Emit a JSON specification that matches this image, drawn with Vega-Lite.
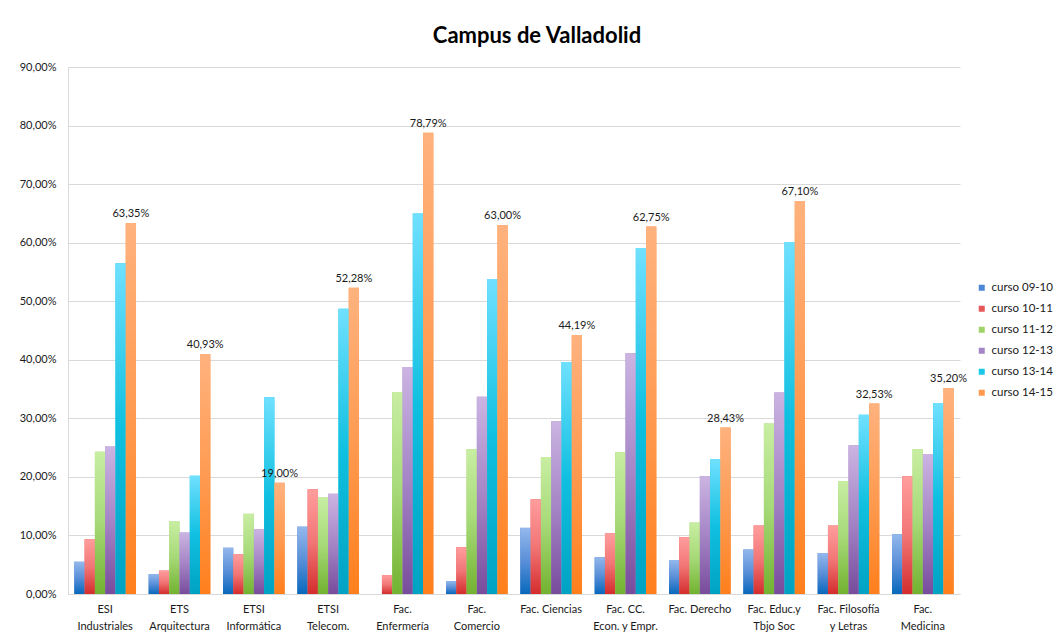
{
  "$schema": "https://vega.github.io/schema/vega-lite/v6.json",
  "autosize": {"type": "none"},
  "width": 892,
  "height": 527,
  "padding": {"left": 68, "top": 67, "right": 94, "bottom": 43},
  "background": "white",
  "config": {
    "view": {"stroke": null},
    "font": "Lato",
    "locale": {"number": {"decimal": ",", "thousands": ".", "grouping": [3], "currency": ["", " €"]}}
  },
  "title": {
    "text": "Campus de Valladolid",
    "fontSize": 22,
    "fontWeight": "bold",
    "font": "Lato",
    "color": "#000000",
    "anchor": "middle",
    "dx": 23,
    "offset": 13
  },
  "data": {
    "values": [
      {"centro": "ESI\nIndustriales", "curso": "curso 09-10", "valor": 0.055},
      {"centro": "ESI\nIndustriales", "curso": "curso 10-11", "valor": 0.0935},
      {"centro": "ESI\nIndustriales", "curso": "curso 11-12", "valor": 0.243},
      {"centro": "ESI\nIndustriales", "curso": "curso 12-13", "valor": 0.252},
      {"centro": "ESI\nIndustriales", "curso": "curso 13-14", "valor": 0.565},
      {"centro": "ESI\nIndustriales", "curso": "curso 14-15", "valor": 0.6335},
      {"centro": "ETS\nArquitectura", "curso": "curso 09-10", "valor": 0.034},
      {"centro": "ETS\nArquitectura", "curso": "curso 10-11", "valor": 0.040},
      {"centro": "ETS\nArquitectura", "curso": "curso 11-12", "valor": 0.124},
      {"centro": "ETS\nArquitectura", "curso": "curso 12-13", "valor": 0.105},
      {"centro": "ETS\nArquitectura", "curso": "curso 13-14", "valor": 0.202},
      {"centro": "ETS\nArquitectura", "curso": "curso 14-15", "valor": 0.4093},
      {"centro": "ETSI\nInformática", "curso": "curso 09-10", "valor": 0.079},
      {"centro": "ETSI\nInformática", "curso": "curso 10-11", "valor": 0.068},
      {"centro": "ETSI\nInformática", "curso": "curso 11-12", "valor": 0.137},
      {"centro": "ETSI\nInformática", "curso": "curso 12-13", "valor": 0.111},
      {"centro": "ETSI\nInformática", "curso": "curso 13-14", "valor": 0.336},
      {"centro": "ETSI\nInformática", "curso": "curso 14-15", "valor": 0.19},
      {"centro": "ETSI\nTelecom.", "curso": "curso 09-10", "valor": 0.115},
      {"centro": "ETSI\nTelecom.", "curso": "curso 10-11", "valor": 0.179},
      {"centro": "ETSI\nTelecom.", "curso": "curso 11-12", "valor": 0.165},
      {"centro": "ETSI\nTelecom.", "curso": "curso 12-13", "valor": 0.171},
      {"centro": "ETSI\nTelecom.", "curso": "curso 13-14", "valor": 0.487},
      {"centro": "ETSI\nTelecom.", "curso": "curso 14-15", "valor": 0.5228},
      {"centro": "Fac.\nEnfermería", "curso": "curso 09-10", "valor": 0},
      {"centro": "Fac.\nEnfermería", "curso": "curso 10-11", "valor": 0.032},
      {"centro": "Fac.\nEnfermería", "curso": "curso 11-12", "valor": 0.345},
      {"centro": "Fac.\nEnfermería", "curso": "curso 12-13", "valor": 0.3875},
      {"centro": "Fac.\nEnfermería", "curso": "curso 13-14", "valor": 0.650},
      {"centro": "Fac.\nEnfermería", "curso": "curso 14-15", "valor": 0.7879},
      {"centro": "Fac.\nComercio", "curso": "curso 09-10", "valor": 0.022},
      {"centro": "Fac.\nComercio", "curso": "curso 10-11", "valor": 0.080},
      {"centro": "Fac.\nComercio", "curso": "curso 11-12", "valor": 0.247},
      {"centro": "Fac.\nComercio", "curso": "curso 12-13", "valor": 0.337},
      {"centro": "Fac.\nComercio", "curso": "curso 13-14", "valor": 0.538},
      {"centro": "Fac.\nComercio", "curso": "curso 14-15", "valor": 0.63},
      {"centro": "Fac. Ciencias", "curso": "curso 09-10", "valor": 0.113},
      {"centro": "Fac. Ciencias", "curso": "curso 10-11", "valor": 0.162},
      {"centro": "Fac. Ciencias", "curso": "curso 11-12", "valor": 0.234},
      {"centro": "Fac. Ciencias", "curso": "curso 12-13", "valor": 0.295},
      {"centro": "Fac. Ciencias", "curso": "curso 13-14", "valor": 0.396},
      {"centro": "Fac. Ciencias", "curso": "curso 14-15", "valor": 0.4419},
      {"centro": "Fac. CC.\nEcon. y Empr.", "curso": "curso 09-10", "valor": 0.063},
      {"centro": "Fac. CC.\nEcon. y Empr.", "curso": "curso 10-11", "valor": 0.104},
      {"centro": "Fac. CC.\nEcon. y Empr.", "curso": "curso 11-12", "valor": 0.242},
      {"centro": "Fac. CC.\nEcon. y Empr.", "curso": "curso 12-13", "valor": 0.411},
      {"centro": "Fac. CC.\nEcon. y Empr.", "curso": "curso 13-14", "valor": 0.591},
      {"centro": "Fac. CC.\nEcon. y Empr.", "curso": "curso 14-15", "valor": 0.6275},
      {"centro": "Fac. Derecho", "curso": "curso 09-10", "valor": 0.058},
      {"centro": "Fac. Derecho", "curso": "curso 10-11", "valor": 0.097},
      {"centro": "Fac. Derecho", "curso": "curso 11-12", "valor": 0.122},
      {"centro": "Fac. Derecho", "curso": "curso 12-13", "valor": 0.201},
      {"centro": "Fac. Derecho", "curso": "curso 13-14", "valor": 0.230},
      {"centro": "Fac. Derecho", "curso": "curso 14-15", "valor": 0.2843},
      {"centro": "Fac. Educ.y\nTbjo Soc", "curso": "curso 09-10", "valor": 0.076},
      {"centro": "Fac. Educ.y\nTbjo Soc", "curso": "curso 10-11", "valor": 0.117},
      {"centro": "Fac. Educ.y\nTbjo Soc", "curso": "curso 11-12", "valor": 0.291},
      {"centro": "Fac. Educ.y\nTbjo Soc", "curso": "curso 12-13", "valor": 0.344},
      {"centro": "Fac. Educ.y\nTbjo Soc", "curso": "curso 13-14", "valor": 0.601},
      {"centro": "Fac. Educ.y\nTbjo Soc", "curso": "curso 14-15", "valor": 0.671},
      {"centro": "Fac. Filosofía\ny Letras", "curso": "curso 09-10", "valor": 0.070},
      {"centro": "Fac. Filosofía\ny Letras", "curso": "curso 10-11", "valor": 0.117},
      {"centro": "Fac. Filosofía\ny Letras", "curso": "curso 11-12", "valor": 0.193},
      {"centro": "Fac. Filosofía\ny Letras", "curso": "curso 12-13", "valor": 0.254},
      {"centro": "Fac. Filosofía\ny Letras", "curso": "curso 13-14", "valor": 0.306},
      {"centro": "Fac. Filosofía\ny Letras", "curso": "curso 14-15", "valor": 0.3253},
      {"centro": "Fac.\nMedicina", "curso": "curso 09-10", "valor": 0.102},
      {"centro": "Fac.\nMedicina", "curso": "curso 10-11", "valor": 0.201},
      {"centro": "Fac.\nMedicina", "curso": "curso 11-12", "valor": 0.247},
      {"centro": "Fac.\nMedicina", "curso": "curso 12-13", "valor": 0.239},
      {"centro": "Fac.\nMedicina", "curso": "curso 13-14", "valor": 0.326},
      {"centro": "Fac.\nMedicina", "curso": "curso 14-15", "valor": 0.352}
    ]
  },
  "encoding": {
    "x": {
      "field": "centro",
      "type": "nominal",
      "sort": null,
      "scale": {"paddingInner": 0.17, "paddingOuter": 0.085},
      "axis": {
        "title": null,
        "labelAngle": 0,
        "labelExpr": "split(datum.label, '\\n')",
        "labelFontSize": 11,
        "labelColor": "#1a1a1a",
        "labelPadding": 9,
        "labelLineHeight": 17,
        "ticks": false,
        "domainColor": "#d9d9d9",
        "labelLimit": 0
      }
    },
    "xOffset": {
      "field": "curso",
      "type": "nominal",
      "scale": {"domain": ["curso 09-10", "curso 10-11", "curso 11-12", "curso 12-13", "curso 13-14", "curso 14-15"], "paddingInner": 0, "paddingOuter": 0}
    },
    "y": {
      "field": "valor",
      "type": "quantitative",
      "scale": {"domain": [0, 0.9], "nice": false},
      "axis": {
        "title": null,
        "format": ".2%",
        "values": [0, 0.1, 0.2, 0.3, 0.4, 0.5, 0.6, 0.7, 0.8, 0.9],
        "labelOverlap": false,
        "labelFontSize": 11,
        "labelColor": "#1a1a1a",
        "labelPadding": 12,
        "ticks": false,
        "gridColor": "#d9d9d9",
        "domainColor": "#d9d9d9"
      }
    }
  },
  "layer": [
    {
      "mark": {"type": "bar"},
      "encoding": {
        "color": {
          "field": "curso",
          "type": "nominal",
          "scale": {
            "domain": ["curso 09-10", "curso 10-11", "curso 11-12", "curso 12-13", "curso 13-14", "curso 14-15"],
            "range": ["#4a86d4", "#e8575a", "#9fd36a", "#a585c6", "#1cc8e8", "#ff9a4e"]
          },
          "legend": {
            "title": null,
            "orient": "none",
            "legendX": 908,
            "legendY": 215,
            "symbolType": "square",
            "symbolSize": 36,
            "symbolStrokeWidth": 0,
            "labelFontSize": 11.5,
            "labelColor": "#1a1a1a",
            "labelOffset": 4,
            "rowPadding": 8
          }
        }
      }
    },
    {
      "transform": [{"filter": "datum.curso == 'curso 09-10'"}],
      "mark": {"type": "bar", "fill": {"gradient": "linear", "x1": 0, "y1": 0, "x2": 0, "y2": 1, "stops": [{"offset": 0, "color": "#93b8ec"}, {"offset": 0.5, "color": "#5a8fd8"}, {"offset": 1, "color": "#0868bc"}]}}
    },
    {
      "transform": [{"filter": "datum.curso == 'curso 10-11'"}],
      "mark": {"type": "bar", "fill": {"gradient": "linear", "x1": 0, "y1": 0, "x2": 0, "y2": 1, "stops": [{"offset": 0, "color": "#ff9d9d"}, {"offset": 0.5, "color": "#f27676"}, {"offset": 1, "color": "#d42d2d"}]}}
    },
    {
      "transform": [{"filter": "datum.curso == 'curso 11-12'"}],
      "mark": {"type": "bar", "fill": {"gradient": "linear", "x1": 0, "y1": 0, "x2": 0, "y2": 1, "stops": [{"offset": 0, "color": "#c8eea2"}, {"offset": 0.5, "color": "#a6d977"}, {"offset": 1, "color": "#72b230"}]}}
    },
    {
      "transform": [{"filter": "datum.curso == 'curso 12-13'"}],
      "mark": {"type": "bar", "fill": {"gradient": "linear", "x1": 0, "y1": 0, "x2": 0, "y2": 1, "stops": [{"offset": 0, "color": "#cbb4e2"}, {"offset": 0.5, "color": "#a585c6"}, {"offset": 1, "color": "#784c9c"}]}}
    },
    {
      "transform": [{"filter": "datum.curso == 'curso 13-14'"}],
      "mark": {"type": "bar", "fill": {"gradient": "linear", "x1": 0, "y1": 0, "x2": 0, "y2": 1, "stops": [{"offset": 0, "color": "#70e0ff"}, {"offset": 0.5, "color": "#10c0e0"}, {"offset": 1, "color": "#00a2c2"}]}}
    },
    {
      "transform": [{"filter": "datum.curso == 'curso 14-15'"}],
      "mark": {"type": "bar", "fill": {"gradient": "linear", "x1": 0, "y1": 0, "x2": 0, "y2": 1, "stops": [{"offset": 0, "color": "#ffb27e"}, {"offset": 0.5, "color": "#ff9b52"}, {"offset": 1, "color": "#ff7f1c"}]}}
    },
    {
      "transform": [{"filter": "datum.curso == 'curso 14-15'"}],
      "mark": {"type": "text", "baseline": "bottom", "dy": -4, "fontSize": 11, "color": "#1a1a1a"},
      "encoding": {
        "text": {"field": "valor", "type": "quantitative", "format": ".2%"}
      }
    }
  ]
}
